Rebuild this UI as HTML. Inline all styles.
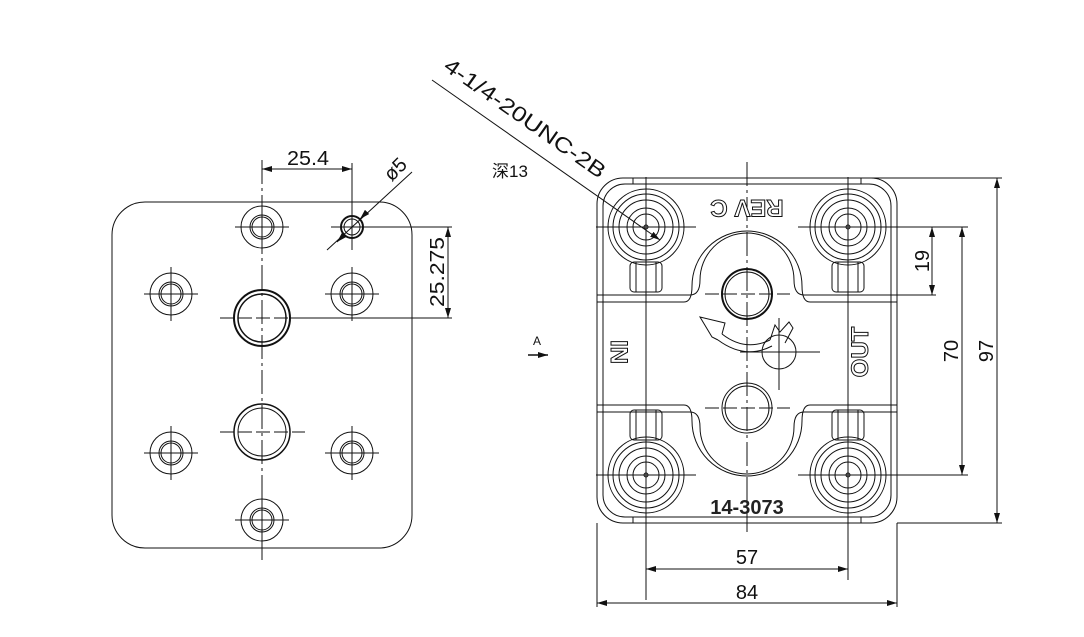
<!DOCTYPE html>
<html><head><meta charset="utf-8"><style>html,body{margin:0;padding:0;background:#fff}svg{display:block}</style></head>
<body>
<svg width="1084" height="637" viewBox="0 0 1084 637" xmlns="http://www.w3.org/2000/svg" font-family="Liberation Sans, 'Noto Sans CJK SC', sans-serif" fill="none" stroke="#111" stroke-width="1">
<defs>
<marker id="ar" viewBox="0 0 10 6" refX="10" refY="3" markerWidth="10" markerHeight="6" orient="auto-start-reverse" markerUnits="userSpaceOnUse"><path d="M0,0 L10,3 L0,6 z" fill="#111" stroke="none"/></marker>
<g id="sh"><circle r="21"/><circle r="12"/><circle r="10"/><path d="M-27,0H27M0,-27V27"/></g>
<g id="rh"><circle r="38"/><circle r="33"/><circle r="27"/><circle r="19"/><circle r="13"/><circle r="2"/><path d="M-50,0H50M0,-50V50"/></g>
</defs>
<!-- LEFT VIEW -->
<rect x="112" y="202" width="300" height="346" rx="33"/>
<path d="M262,160V560" stroke-dasharray="24,4,3,4"/>
<use href="#sh" x="262" y="227"/>
<use href="#sh" x="171" y="294"/>
<use href="#sh" x="352" y="294"/>
<use href="#sh" x="171" y="453"/>
<use href="#sh" x="352" y="453"/>
<use href="#sh" x="262" y="520"/>
<circle cx="262" cy="318" r="28" stroke-width="2"/><circle cx="262" cy="318" r="24" stroke-width="1.5"/>
<circle cx="262" cy="432" r="28" stroke-width="1.5"/><circle cx="262" cy="432" r="24"/>
<path d="M220,318H305M220,432H305" stroke-dasharray="14,4"/>
<circle cx="352" cy="227" r="11" stroke-width="2"/><circle cx="352" cy="227" r="8"/>
<path d="M331,227H372M352,208V250"/>
<!-- dims left -->
<path d="M352,163V208"/>
<path d="M262,169H352" marker-start="url(#ar)" marker-end="url(#ar)"/>
<text x="308" y="165" font-size="20" fill="#111" stroke="none" text-anchor="middle" textLength="42" lengthAdjust="spacingAndGlyphs">25.4</text>
<path d="M327,250L412,172"/>
<path d="M344,235L337,242" marker-end="url(#ar)"/><path d="M360,219L367,212" marker-start="url(#ar)"/>
<text transform="translate(400,174) rotate(-45)" font-size="20" fill="#111" stroke="none" text-anchor="middle">ø5</text>
<path d="M372,227H452M290,318H452"/>
<path d="M448,227V318" marker-start="url(#ar)" marker-end="url(#ar)"/>
<text transform="translate(444,272) rotate(-90)" font-size="20" fill="#111" stroke="none" text-anchor="middle" textLength="70" lengthAdjust="spacingAndGlyphs">25.275</text>
<!-- A arrow -->
<text x="533" y="345" font-size="12" fill="#111" stroke="none">A</text>
<path d="M528,355H548" stroke-width="1.5" marker-end="url(#ar)"/>
<!-- leader -->
<path d="M432,80L660,240" marker-end="url(#ar)"/>
<text transform="translate(521,124) rotate(35)" font-size="21" fill="#111" stroke="none" text-anchor="middle" textLength="192" lengthAdjust="spacingAndGlyphs">4-1/4-20UNC-2B</text>
<text x="492" y="177" font-size="17" fill="#111" stroke="none">深13</text>
<!-- RIGHT VIEW -->
<rect x="597" y="178" width="300" height="345" rx="26"/>
<rect x="603" y="184" width="288" height="333" rx="22"/>
<path d="M633,178V184M861,178V184M633,517V523M861,517V523"/>
<path d="M747,162V530" stroke-dasharray="24,4,3,4"/>
<path d="M646,200V600M848,200V580"/>
<use href="#rh" x="646" y="227"/>
<use href="#rh" x="848" y="227"/>
<use href="#rh" x="646" y="475"/>
<use href="#rh" x="848" y="475"/>
<!-- bosses -->
<g>
<rect x="630" y="262" width="32" height="30" rx="4"/><path d="M636,262V292M656,262V292"/>
<rect x="832" y="262" width="32" height="30" rx="4"/><path d="M838,262V292M858,262V292"/>
<rect x="630" y="410" width="32" height="30" rx="4"/><path d="M636,410V440M656,410V440"/>
<rect x="832" y="410" width="32" height="30" rx="4"/><path d="M838,410V440M858,410V440"/>
</g>
<!-- band -->
<path d="M597,295H690Q700,295 700,280A47,47 0 0 1 794,280Q794,295 804,295H897"/>
<path d="M597,302H684Q692,302 692,286A55,55 0 0 1 802,286Q802,302 810,302H897"/>
<path d="M597,405H684Q692,405 692,421A55,55 0 0 0 802,421Q802,405 810,405H897"/>
<path d="M597,412H690Q700,412 700,427A47,47 0 0 0 794,427Q794,412 804,412H897"/>
<circle cx="747" cy="294" r="25" stroke-width="2"/><circle cx="747" cy="294" r="22"/>
<circle cx="747" cy="408" r="25"/><circle cx="747" cy="408" r="22"/>
<path d="M705,294H790M705,408H790" stroke-dasharray="14,4"/>
<circle cx="779" cy="352" r="17"/>
<path d="M740,352H820M779,318V390"/>
<path d="M770,340Q745,352 722,334" stroke-width="1"/>
<path d="M772,346Q745,360 718,340"/>
<path d="M718,340L712,337L700,317L725,323L722,334"/>
<path d="M770,340L775,325L780,332L789,322L793,328L785,343"/>
<text transform="translate(868,352) rotate(-90)" font-size="24" font-weight="bold" fill="#fff" stroke="#111" stroke-width="1" text-anchor="middle">OUT</text>
<text transform="translate(611,352) rotate(90)" font-size="24" font-weight="bold" fill="#fff" stroke="#111" stroke-width="1" text-anchor="middle">IN</text>
<text transform="translate(747,200) rotate(180)" font-size="24" font-weight="bold" fill="#fff" stroke="#111" stroke-width="1" text-anchor="middle">REV C</text>
<text x="747" y="514" font-size="20" font-weight="bold" fill="#222" stroke="none" text-anchor="middle">14-3073</text>
<!-- right dims -->
<path d="M860,178H1002M897,523H1002M897,227H968M897,295H936M897,475H968"/>
<path d="M932,227V295" marker-start="url(#ar)" marker-end="url(#ar)"/>
<path d="M962,227V475" marker-start="url(#ar)" marker-end="url(#ar)"/>
<path d="M997,178V523" marker-start="url(#ar)" marker-end="url(#ar)"/>
<text transform="translate(929,261) rotate(-90)" font-size="20" fill="#111" stroke="none" text-anchor="middle">19</text>
<text transform="translate(958,351) rotate(-90)" font-size="20" fill="#111" stroke="none" text-anchor="middle">70</text>
<text transform="translate(993,351) rotate(-90)" font-size="20" fill="#111" stroke="none" text-anchor="middle">97</text>
<path d="M597,523V607M897,523V607M747,523V532"/>
<path d="M646,569H848" marker-start="url(#ar)" marker-end="url(#ar)"/>
<path d="M597,603H897" marker-start="url(#ar)" marker-end="url(#ar)"/>
<text x="747" y="564" font-size="20" fill="#111" stroke="none" text-anchor="middle">57</text>
<text x="747" y="599" font-size="20" fill="#111" stroke="none" text-anchor="middle">84</text>
</svg>
</body></html>
